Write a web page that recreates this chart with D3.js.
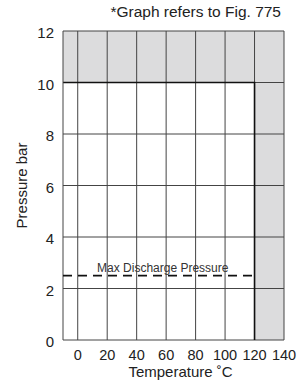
<!DOCTYPE html>
<html>
<head>
<meta charset="utf-8">
<script src="https://cdn.jsdelivr.net/npm/d3@7/dist/d3.min.js"></script>
<style>
  body { margin: 0; background: #fff; }
  text { font-family: "Liberation Sans", Arial, sans-serif; fill: #222; }
</style>
</head>
<body>
<div id="chart"></div>
<script>
// data
var xTicks = [0, 20, 40, 60, 80, 100, 120, 140];
var yTicks = [0, 2, 4, 6, 8, 10, 12];
var xDomain = [-10, 140];
var yDomain = [0, 12];
var maxTemp = 120;       // allowed temperature limit
var maxPressure = 10;    // allowed pressure limit
var dischargePressure = 2.5;
var dischargeLabel = "Max Discharge Pressure";
var note = "*Graph refers to Fig. 775";

var width = 302, height = 382;
var margin = {top: 31, right: 18, bottom: 42, left: 63};
var w = width - margin.left - margin.right;
var h = height - margin.top - margin.bottom;

var svg = d3.select("#chart").append("svg")
    .attr("width", width)
    .attr("height", height);
var g = svg.append("g")
    .attr("transform", "translate(" + margin.left + "," + margin.top + ")");

var x = d3.scaleLinear().domain(xDomain).range([0, w]);
var y = d3.scaleLinear().domain(yDomain).range([h, 0]);

// shaded out-of-range zones
g.append("rect")
    .attr("x", x(xDomain[0])).attr("y", y(yDomain[1]))
    .attr("width", x(xDomain[1]) - x(xDomain[0]))
    .attr("height", y(maxPressure) - y(yDomain[1]))
    .attr("fill", "#dcdcdd");
g.append("rect")
    .attr("x", x(maxTemp)).attr("y", y(maxPressure))
    .attr("width", x(xDomain[1]) - x(maxTemp))
    .attr("height", y(0) - y(maxPressure))
    .attr("fill", "#dcdcdd");

// grid
g.selectAll(".vgrid")
    .data(xTicks)
  .enter().append("line")
    .attr("class", "vgrid")
    .attr("x1", function (d) { return x(d); })
    .attr("x2", function (d) { return x(d); })
    .attr("y1", y(yDomain[0]))
    .attr("y2", y(yDomain[1]))
    .attr("stroke", "#444")
    .attr("stroke-width", 1);
g.selectAll(".hgrid")
    .data(yTicks)
  .enter().append("line")
    .attr("class", "hgrid")
    .attr("x1", x(xDomain[0]))
    .attr("x2", x(xDomain[1]))
    .attr("y1", function (d) { return y(d); })
    .attr("y2", function (d) { return y(d); })
    .attr("stroke", "#444")
    .attr("stroke-width", 1);

// limit boundary
g.append("path")
    .attr("d", "M" + x(xDomain[0]) + "," + y(maxPressure) +
               "H" + x(maxTemp) + "V" + y(0))
    .attr("fill", "none")
    .attr("stroke", "#111")
    .attr("stroke-width", 1.6);

// left border
g.append("line")
    .attr("x1", x(xDomain[0])).attr("x2", x(xDomain[0]))
    .attr("y1", y(yDomain[0])).attr("y2", y(yDomain[1]))
    .attr("stroke", "#444");

// dashed discharge line
g.append("line")
    .attr("x1", x(xDomain[0])).attr("x2", x(maxTemp))
    .attr("y1", y(dischargePressure)).attr("y2", y(dischargePressure))
    .attr("stroke", "#111")
    .attr("stroke-width", 1.6)
    .attr("stroke-dasharray", "9,6");
g.append("text")
    .attr("x", (x(xDomain[0]) + x(maxTemp)) / 2 + 4)
    .attr("y", y(dischargePressure) - 4)
    .attr("text-anchor", "middle")
    .style("font-size", "12px")
    .style("fill", "#333")
    .text(dischargeLabel);

// tick labels
g.selectAll(".ylab")
    .data(yTicks)
  .enter().append("text")
    .attr("class", "ylab")
    .attr("x", -9)
    .attr("y", function (d) { return y(d); })
    .attr("dy", "0.47em")
    .attr("text-anchor", "end")
    .style("font-size", "15px")
    .text(function (d) { return d; });
g.selectAll(".xlab")
    .data(xTicks)
  .enter().append("text")
    .attr("class", "xlab")
    .attr("x", function (d) { return x(d); })
    .attr("y", h + 20)
    .attr("text-anchor", "middle")
    .style("font-size", "14.5px")
    .text(function (d) { return d; });

// axis titles
g.append("text")
    .attr("x", w / 2 + 7)
    .attr("y", h + 37)
    .attr("text-anchor", "middle")
    .style("font-size", "15px")
    .text("Temperature ˚C");
g.append("text")
    .attr("transform", "translate(" + (-36) + "," + (h / 2) + ") rotate(-90)")
    .attr("text-anchor", "middle")
    .style("font-size", "15px")
    .text("Pressure bar");

svg.append("text")
    .attr("x", margin.left + w - 3)
    .attr("y", 17)
    .attr("text-anchor", "end")
    .style("font-size", "15.5px")
    .text(note);
</script>
</body>
</html>
